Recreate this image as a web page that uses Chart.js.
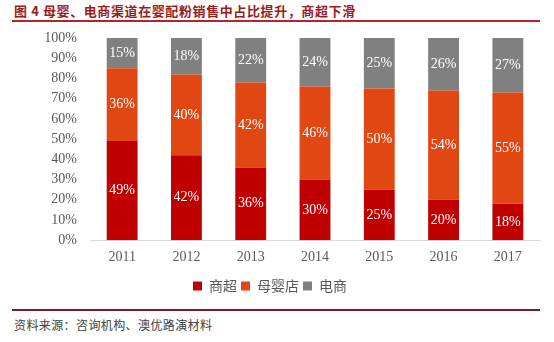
<!DOCTYPE html>
<html lang="zh-CN">
  <head>
    <meta charset="UTF-8" />
    <title>婴配粉销售渠道占比</title>
    <script src="https://cdn.jsdelivr.net/npm/chart.js"></script>
    <style>
      body { margin: 0; background: #fff; }
      #wrap { position: relative; width: 554px; height: 342px; overflow: hidden; }
      .titulo {
        position: absolute; left: 14px; top: 1px; letter-spacing: 0.6px;
        font: bold 13px "Noto Sans CJK SC", sans-serif; color: #9b1c1c;
      }
      .linha { position: absolute; left: 12px; width: 528px; height: 2px; }
      .fonte {
        position: absolute; left: 14px; top: 316px; letter-spacing: 0.4px;
        font: 12px "Noto Sans CJK SC", sans-serif; color: #404040;
      }
    </style>
  </head>
  <body>
    <div id="wrap">
      <div class="titulo">图 4 母婴、电商渠道在婴配粉销售中占比提升，商超下滑</div>
      <div class="linha" style="top: 20px; background: #b8222a"></div>
      <div style="position: absolute; left: 0; top: 0; width: 554px; height: 307px">
        <canvas id="grafico1"></canvas>
      </div>
      <div class="linha" style="top: 309px; background: #7a1f1f"></div>
      <div class="fonte">资料来源：咨询机构、澳优路演材料</div>
    </div>
    <script>
      const anos = ["2011", "2012", "2013", "2014", "2015", "2016", "2017"]
      const shangchao = [49, 42, 36, 30, 25, 20, 18]
      const muying = [36, 40, 42, 46, 50, 54, 55]
      const dianshang = [15, 18, 22, 24, 25, 26, 27]
      const ticksY = [0, 10, 20, 30, 40, 50, 60, 70, 80, 90, 100]

      // rotulos brancos dentro das barras
      const rotulos = {
        id: "rotulos",
        afterDatasetsDraw(chart) {
          const c = chart.ctx
          c.save()
          c.fillStyle = "#fff"
          c.font = "14px 'Liberation Serif', serif"
          c.textAlign = "center"
          c.textBaseline = "middle"
          chart.data.datasets.forEach((ds, i) => {
            chart.getDatasetMeta(i).data.forEach((bar, j) => {
              const p = bar.getProps(["x", "y", "base"], true)
              c.fillText(ds.data[j] + "%", p.x, (p.y + p.base) / 2)
            })
          })
          c.restore()
        },
      }

      const ctx = document.getElementById("grafico1")
      new Chart(ctx, {
        type: "bar",
        data: {
          labels: anos,
          datasets: [
            { label: "商超", data: shangchao, backgroundColor: "#c00000" },
            { label: "母婴店", data: muying, backgroundColor: "#e04712" },
            { label: "电商", data: dianshang, backgroundColor: "#808080" },
          ],
        },
        options: {
          responsive: true,
          maintainAspectRatio: false,
          animation: false,
          layout: { padding: { top: 38, right: 14, bottom: 4, left: 0 } },
          datasets: { bar: { categoryPercentage: 1, barPercentage: 0.48 } },
          scales: {
            x: {
              stacked: true,
              grid: { display: false, drawTicks: false },
              border: { color: "#d9d9d9" },
              ticks: { color: "#595959", padding: 9, font: { family: "'Liberation Serif', serif", size: 14 } },
            },
            y: {
              stacked: true,
              min: 0,
              max: 100,
              afterBuildTicks: (s) => { s.ticks = ticksY.map((v) => ({ value: v })) },
              afterFit: (s) => { s.width = 90 },
              grid: { display: false, drawTicks: false },
              border: { display: false },
              ticks: {
                color: "#595959",
                padding: 13,
                font: { family: "'Liberation Serif', serif", size: 14 },
                callback: (v) => v + "%",
              },
            },
          },
          plugins: {
            tooltip: { enabled: false },
            legend: {
              position: "bottom",
              labels: {
                boxWidth: 9,
                boxHeight: 9,
                padding: 4,
                color: "#595959",
                font: { family: "'Noto Sans CJK SC', sans-serif", size: 14 },
              },
            },
          },
        },
        plugins: [rotulos],
      })
    </script>
  </body>
</html>
